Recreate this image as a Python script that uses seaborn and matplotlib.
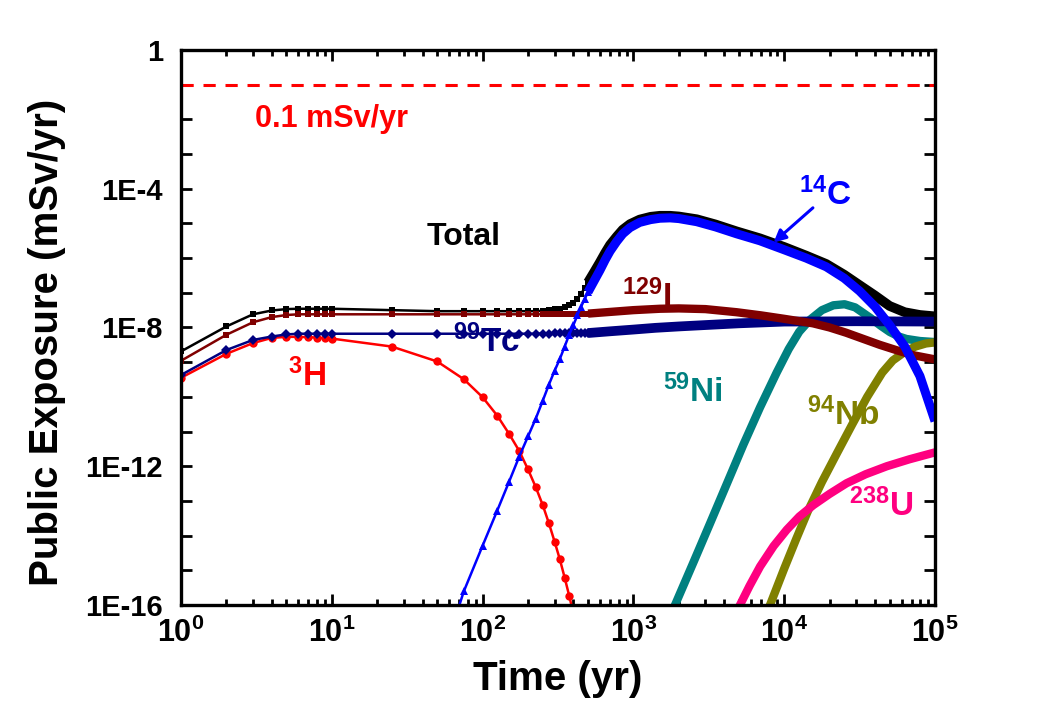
import numpy as np
import matplotlib
matplotlib.use('Agg')
import matplotlib.pyplot as plt
import seaborn as sns
from matplotlib.ticker import FixedLocator, FixedFormatter, NullFormatter

# ---- data: time (yr) and log10 of public exposure (mSv/yr) ----

# early part, where every calculated point shows as a marker
t_early = [1, 2, 3, 4, 5, 6, 7, 8, 9, 10, 25, 50, 75, 100, 125, 150, 175, 200,
           225, 250, 275, 300, 325, 350, 375, 400, 425, 450, 475, 500]
total_early = [-8.69, -7.97, -7.62, -7.51, -7.47, -7.46, -7.46, -7.46, -7.46, -7.46,
               -7.50, -7.53, -7.53, -7.53, -7.53, -7.53, -7.53, -7.53,
               -7.53, -7.52, -7.50, -7.48, -7.46, -7.42, -7.36, -7.30, -7.18, -7.03, -6.86, -6.70]
i129_early = [-8.96, -8.21, -7.85, -7.70, -7.64, -7.62, -7.62, -7.62, -7.62, -7.62,
              -7.62, -7.62, -7.62, -7.62, -7.62, -7.62, -7.62, -7.62,
              -7.62, -7.62, -7.61, -7.61, -7.61, -7.61, -7.61, -7.60, -7.60, -7.60, -7.60, -7.60]
tc99_early = [-9.37, -8.65, -8.36, -8.26, -8.20, -8.18, -8.18, -8.18, -8.18, -8.18,
              -8.18, -8.18, -8.18, -8.18, -8.18, -8.18, -8.18, -8.18,
              -8.18, -8.18, -8.18, -8.17, -8.17, -8.17, -8.17, -8.17, -8.16, -8.16, -8.16, -8.16]

t_h3 = [1, 2, 3, 4, 5, 6, 7, 8, 9, 10, 25, 50, 75, 100, 125, 150, 175, 200,
        225, 250, 275, 300, 325, 350, 375, 400]
h3 = [-9.45, -8.76, -8.45, -8.30, -8.27, -8.27, -8.28, -8.29, -8.31, -8.32,
      -8.55, -8.98, -9.49, -10.01, -10.54, -11.07, -11.56, -12.09,
      -12.60, -13.11, -13.64, -14.17, -14.68, -15.21, -15.73, -16.25]

t_c14_early = [50, 75, 100, 125, 150, 175, 200, 225, 250, 275, 300, 325, 350,
               375, 400, 425, 450, 475, 500]
c14_early = [-18.0, -15.61, -14.29, -13.28, -12.44, -11.72, -11.14, -10.63, -10.12,
             -9.65, -9.25, -8.91, -8.55, -8.21, -7.93, -7.65, -7.40, -7.18, -6.98]

# late part, where the points are so dense they merge into a thick band
t_late = [500, 550, 600, 650, 700, 775, 850, 950, 1100, 1300, 1500, 1750, 2000, 2630,
          3500, 4840, 6900, 10000, 14000, 19000, 25000, 31600, 40000, 50000, 63000,
          79400, 100000]
total_late = [-6.70, -6.40, -6.12, -5.85, -5.62, -5.38, -5.18, -5.02, -4.89, -4.81,
              -4.78, -4.78, -4.80, -4.88, -5.03, -5.23, -5.43, -5.68, -5.93, -6.17,
              -6.48, -6.78, -7.08, -7.38, -7.56, -7.64, -7.68]
c14_late = [-6.98, -6.65, -6.35, -6.05, -5.80, -5.52, -5.30, -5.12, -4.97, -4.89,
            -4.85, -4.84, -4.86, -4.95, -5.10, -5.30, -5.50, -5.76, -6.00, -6.25,
            -6.58, -6.95, -7.40, -7.93, -8.55, -9.40, -10.70]

t_tc99_late = [500, 700, 1000, 1400, 2000, 3000, 5000, 10000, 30000, 100000]
tc99_late = [-8.16, -8.11, -8.06, -8.01, -7.97, -7.93, -7.88, -7.83, -7.82, -7.83]

t_i129_late = [500, 1000, 1500, 2000, 3000, 4840, 7000, 10000, 15500, 20000, 25700,
               33000, 43000, 57000, 72000, 100000]
i129_late = [-7.60, -7.50, -7.46, -7.45, -7.47, -7.56, -7.65, -7.75, -7.88, -8.00,
             -8.15, -8.32, -8.50, -8.67, -8.80, -8.92]

t_ni59 = [1585, 1888, 2512, 3221, 4169, 5358, 6918, 8913, 10715, 12589, 14791, 17783,
          21184, 25119, 29512, 37154, 43652, 50119, 57544, 64565, 79433, 100000]
ni59 = [-16.8, -16.0, -14.75, -13.65, -12.5, -11.38, -10.3, -9.3, -8.62, -8.12, -7.78,
        -7.5, -7.36, -7.33, -7.42, -7.72, -7.95, -8.13, -8.26, -8.33, -8.39, -8.42]

t_nb94 = [6920, 8050, 10000, 12000, 14400, 17800, 22400, 28200, 35500, 44700, 52500,
          63100, 74100, 87100, 100000]
nb94 = [-16.75, -16.0, -14.95, -14.1, -13.28, -12.45, -11.62, -10.8, -10.0, -9.3,
        -8.95, -8.7, -8.55, -8.46, -8.43]

t_u238 = [4170, 5090, 5890, 6920, 8510, 10400, 12600, 15600, 19950, 25900, 34700,
          47900, 67600, 100000]
u238 = [-16.75, -16.0, -15.45, -14.89, -14.3, -13.83, -13.45, -13.12, -12.8, -12.49,
        -12.23, -12.0, -11.8, -11.6]

limit = 0.1  # mSv/yr

colors = {'Total': 'black', '3H': '#ff0000', '14C': '#0000ff', '59Ni': '#008080',
          '94Nb': '#808000', '99Tc': '#000080', '129I': '#800000', '238U': '#ff0080'}

sns.set_style('ticks')
plt.rcParams['font.family'] = ['Liberation Sans', 'DejaVu Sans']
plt.rcParams['font.weight'] = 'bold'
plt.rcParams['text.color'] = 'black'
plt.rcParams['axes.labelcolor'] = 'black'
plt.rcParams['mathtext.fontset'] = 'custom'
plt.rcParams['mathtext.rm'] = 'Liberation Sans:bold'
plt.rcParams['mathtext.bf'] = 'Liberation Sans:bold'
plt.rcParams['mathtext.it'] = 'Liberation Sans:bold'
plt.rcParams['mathtext.default'] = 'rm'

fig = plt.figure(figsize=(10.48, 7.09), dpi=100)
ax = fig.add_axes([0.1727, 0.1467, 0.7195, 0.7828])
ax.set_xscale('log')
ax.set_yscale('log')


def exp10(vals):
    return np.power(10.0, np.asarray(vals, dtype=float))


def thin(t, v, c, m, ms):
    sns.lineplot(x=t, y=exp10(v), ax=ax, color=c, lw=1.8, marker=m, markersize=ms,
                 markeredgewidth=0, sort=False, estimator=None)


def thick(t, v, c, lw=6):
    sns.lineplot(x=t, y=exp10(v), ax=ax, color=c, lw=lw, sort=False, estimator=None,
                 solid_capstyle='butt', solid_joinstyle='round')


# drawing order follows the reference layering
thin(t_early, total_early, colors['Total'], 's', 5)
thick(t_late, total_late, colors['Total'], 7)
thin(t_h3, h3, colors['3H'], 'o', 6)
thick(t_ni59, ni59, colors['59Ni'])
thick(t_nb94, nb94, colors['94Nb'])
thin(t_early, tc99_early, colors['99Tc'], 'D', 5)
thick(t_tc99_late, tc99_late, colors['99Tc'], 7)
thin(t_early, i129_early, colors['129I'], 's', 5)
thick(t_i129_late, i129_late, colors['129I'])
thin(t_c14_early, c14_early, colors['14C'], '^', 6)
thick(t_late, c14_late, colors['14C'], 6.5)
thick(t_u238, u238, colors['238U'])

ax.axhline(limit, color='#ff0000', lw=2.2, dashes=(4, 3.2))

ax.set_xlim(1, 1e5)
ax.set_ylim(1e-16, 1)

# ticks
ax.xaxis.set_major_locator(FixedLocator([1, 1e1, 1e2, 1e3, 1e4, 1e5]))
ax.xaxis.set_major_formatter(FixedFormatter([r'$10^{%d}$' % k for k in range(6)]))
ax.xaxis.set_minor_locator(FixedLocator([m * 10.0 ** k for k in range(5) for m in range(2, 10)]))
ax.xaxis.set_minor_formatter(NullFormatter())
ydec = [10.0 ** -k for k in range(17)]
ylab = {0: '1', 4: '1E-4', 8: '1E-8', 12: '1E-12', 16: '1E-16'}
ax.yaxis.set_major_locator(FixedLocator(ydec))
ax.yaxis.set_major_formatter(FixedFormatter([ylab.get(k, '') for k in range(17)]))
ax.yaxis.set_minor_locator(FixedLocator([]))

ax.tick_params(which='both', direction='in', top=True, right=True, width=2, colors='black')
ax.tick_params(which='major', length=8)
ax.tick_params(which='minor', length=4.5)
ax.tick_params(axis='x', which='major', labelsize=22, pad=9)
ax.tick_params(axis='y', which='major', labelsize=21, pad=13)
for lab in ax.get_yticklabels():
    lab.set_fontweight('bold')
for sp in ax.spines.values():
    sp.set_linewidth(2.4)
    sp.set_color('black')
    sp.set_visible(True)

ax.set_xlabel('Time (yr)', fontsize=29, fontweight='bold', color='black')
ax.set_ylabel('Public Exposure (mSv/yr)', fontsize=29, fontweight='bold', color='black')
ax.xaxis.set_label_coords(0.5, -0.10)
ax.yaxis.set_label_coords(-0.152, 0.474)

# annotations
fs = 24
ax.text(3.1, 10 ** -2.22, '0.1 mSv/yr', color='#ff0000', fontsize=22, fontweight='bold')
ax.text(42.6, 10 ** -5.62, 'Total', color='black', fontsize=23, fontweight='bold')
ax.text(12540, 10 ** -4.47, r'$^{14}$C', color=colors['14C'], fontsize=fs, fontweight='bold')
ax.annotate('', xy=(8500, 10 ** -5.55), xytext=(15500, 10 ** -4.55),
            arrowprops=dict(arrowstyle='-|>', color=colors['14C'], lw=2.2,
                            mutation_scale=18, shrinkA=0, shrinkB=0))
ax.text(836, 10 ** -7.41, r'$^{129}$I', color=colors['129I'], fontsize=fs, fontweight='bold')
ax.text(63.7, 10 ** -8.72, r'$^{99}$Tc', color=colors['99Tc'], fontsize=fs, fontweight='bold')
ax.text(5.15, 10 ** -9.70, r'$^{3}$H', color=colors['3H'], fontsize=fs, fontweight='bold')
ax.text(1580, 10 ** -10.14, r'$^{59}$Ni', color=colors['59Ni'], fontsize=fs, fontweight='bold')
ax.text(14100, 10 ** -10.81, r'$^{94}$Nb', color=colors['94Nb'], fontsize=fs, fontweight='bold')
ax.text(27000, 10 ** -13.45, r'$^{238}$U', color=colors['238U'], fontsize=fs, fontweight='bold')

fig.savefig('out.png', dpi=100)
